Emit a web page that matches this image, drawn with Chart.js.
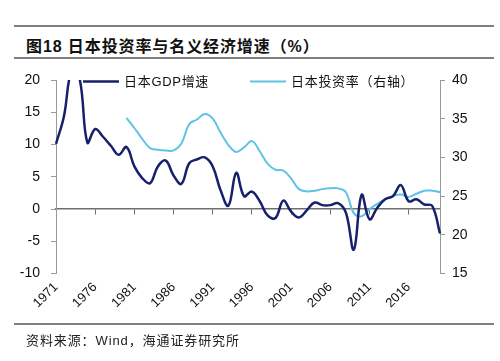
<!DOCTYPE html>
<html>
<head>
<meta charset="utf-8">
<script src="https://cdn.jsdelivr.net/npm/chart.js@4"></script>
<style>
  body { margin: 0; background: #fff; }
  #wrap { position: relative; width: 500px; height: 361px; overflow: hidden; }
  .rule { position: absolute; left: 14px; width: 480px; height: 1.5px; background: #808080; }
  #title { position: absolute; left: 26px; top: 33px; font: bold 16px "Liberation Sans", "Noto Sans CJK SC", sans-serif; letter-spacing: 0.9px; color: #111; white-space: nowrap; }
  #source { position: absolute; left: 26px; top: 330px; font: 13px "Liberation Sans", "Noto Sans CJK SC", sans-serif; letter-spacing: 0.9px; color: #222; white-space: nowrap; }
  canvas { position: absolute; left: 0; top: 0; }
</style>
</head>
<body>
<div id="wrap">
  <div class="rule" style="top:25px"></div>
  <div id="title">图18 日本投资率与名义经济增速（%）</div>
  <div class="rule" style="top:57px"></div>
  <canvas id="myChart" width="500" height="361"></canvas>
  <div class="rule" style="top:323px"></div>
  <div id="source">资料来源：Wind，海通证券研究所</div>
</div>
<script>
  // data
  const years = [];
  for (let y = 1971; y <= 2020; y++) years.push(String(y));

  const gdpGrowth = [
    10.1, 14.3, 21.5, 20.3, 10.3, 12.4, 11.2, 9.8, 8.4, 9.6,
    6.6, 4.8, 4.0, 6.6, 7.5, 5.2, 3.9, 7.1, 7.7, 8.0,
    6.6, 2.9, 0.5, 5.6, 2.0, 2.7, 1.2, -1.0, -1.4, 1.3,
    -0.4, -1.3, -0.2, 1.0, 0.6, 0.6, 0.9, -0.6, -6.3, 2.2,
    -1.6, 0.2, 1.5, 2.0, 3.7, 1.2, 1.5, 0.7, 0.5, -3.8
  ];

  const investRate = [
    null, null, null, null, null, null, null, null, null, 35.1,
    33.8, 32.4, 31.2, 31.0, 30.9, 30.9, 31.8, 34.3, 34.9, 35.6,
    35.0, 33.2, 31.6, 30.7, 31.3, 32.1, 30.8, 29.2, 28.4, 28.3,
    27.3, 25.9, 25.6, 25.7, 25.9, 26.0, 26.0, 25.5, 22.8, 22.4,
    23.3, 24.0, 24.6, 25.0, 25.2, 24.9, 25.3, 25.7, 25.7, 25.5
  ];

  const seriesNames = ['日本GDP增速', '日本投资率（右轴）'];
  const leftTicks = { min: -10, max: 20, step: 5 };
  const rightTicks = { min: 15, max: 40, step: 5 };

  const tickFont = { family: '"Liberation Sans", Arial, sans-serif', size: 14 };
  const everyFifth = (i) => i % 5 === 0;

  // legend drawn inside the plot, top row
  const innerLegend = {
    id: 'innerLegend',
    afterDraw(chart, args, opts) {
      const ctx = chart.ctx;
      ctx.save();
      ctx.font = '13px "Liberation Sans", "Noto Sans CJK SC", sans-serif';
      ctx.letterSpacing = '0.7px';
      ctx.textBaseline = 'middle';
      chart.data.datasets.forEach((ds, i) => {
        const x = opts.xs[i];
        const y = opts.y;
        ctx.strokeStyle = ds.borderColor;
        ctx.lineWidth = ds.borderWidth;
        ctx.beginPath();
        ctx.moveTo(x, y);
        ctx.lineTo(x + opts.lineLen, y);
        ctx.stroke();
        ctx.fillStyle = '#111';
        ctx.fillText(ds.label, x + opts.lineLen + 5, y + 1);
      });
      ctx.restore();
    }
  };

  new Chart(document.getElementById('myChart').getContext('2d'), {
    type: 'line',
    data: {
      labels: years,
      datasets: [{
        label: seriesNames[0],
        data: gdpGrowth,
        yAxisID: 'y',
        borderColor: '#17206b',
        borderWidth: 2.5,
        pointRadius: 0,
        tension: 0.4,
        fill: false
      }, {
        label: seriesNames[1],
        data: investRate,
        yAxisID: 'y1',
        borderColor: '#5fc3e6',
        borderWidth: 2,
        pointRadius: 0,
        tension: 0.4,
        fill: false
      }]
    },
    options: {
      responsive: false,
      animation: false,
      layout: { padding: { top: 80, bottom: 47.5, left: 0, right: 0 } },
      plugins: {
        legend: { display: false },
        tooltip: { enabled: false },
        innerLegend: { xs: [83, 250], y: 81.5, lineLen: 36 }
      },
      scales: {
        // year labels under the plot
        x: {
          type: 'category',
          position: 'bottom',
          offset: false,
          afterFit: (s) => { s.height = 40; },
          border: { display: false },
          grid: { display: false, drawTicks: false },
          ticks: {
            autoSkip: false,
            maxRotation: 45,
            minRotation: 45,
            padding: 6,
            color: '#111',
            font: { family: tickFont.family, size: 13 },
            callback: (v, i) => (everyFifth(i) ? years[i] : '')
          }
        },
        // axis line with tick marks crossing at zero
        x0: {
          type: 'category',
          position: { y: 0 },
          offset: false,
          border: { color: '#6f6f6f', width: 1.5 },
          grid: {
            drawOnChartArea: false,
            tickLength: 5,
            tickColor: (c) => (everyFifth(c.index) ? '#6f6f6f' : 'rgba(0,0,0,0)')
          },
          ticks: { display: false, autoSkip: false }
        },
        y: {
          position: 'left',
          min: leftTicks.min,
          max: leftTicks.max,
          afterFit: (s) => { s.width = 56; },
          border: { color: '#9a9a9a', width: 1 },
          grid: { drawOnChartArea: false, tickLength: 5, tickColor: '#9a9a9a' },
          ticks: { stepSize: leftTicks.step, padding: 11, color: '#111', font: tickFont }
        },
        y1: {
          position: 'right',
          min: rightTicks.min,
          max: rightTicks.max,
          afterFit: (s) => { s.width = 60; },
          border: { color: '#9a9a9a', width: 1 },
          grid: { drawOnChartArea: false, tickLength: 5, tickColor: '#9a9a9a' },
          ticks: { stepSize: rightTicks.step, padding: 7, color: '#111', font: tickFont }
        }
      }
    },
    plugins: [innerLegend]
  });
</script>
</body>
</html>
